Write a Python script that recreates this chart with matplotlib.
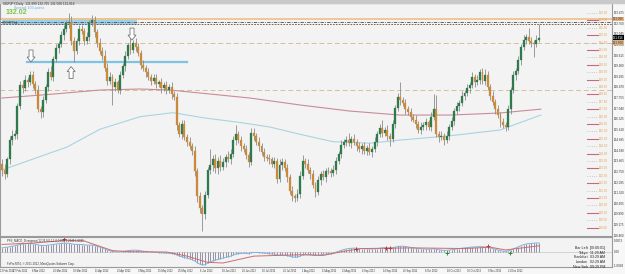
import matplotlib
matplotlib.use("Agg")
import matplotlib.pyplot as plt
import numpy as np
from matplotlib.patches import Rectangle, Polygon

# daily GBPJPY closes
closes = [
    122.9, 122.6, 123.6, 124.9, 125.2, 125.3, 127.2, 128.6, 128.4, 129.0,
    128.8, 129.3, 128.7, 128.3, 127.0, 126.8, 127.6, 128.5, 129.5, 129.2,
    130.4, 131.1, 131.4, 132.0, 132.4, 132.8, 132.9, 131.6, 130.9, 131.6,
    132.4, 132.3, 131.6, 131.9, 132.8, 133.0, 132.2, 131.5, 130.9, 130.6,
    129.8, 128.9, 129.2, 128.5, 128.8, 128.3, 129.3, 129.9, 130.6, 131.3,
    131.0, 131.5, 131.2, 130.8, 130.0, 129.8, 129.5, 129.2, 128.9, 129.1,
    128.7, 128.8, 128.4, 128.6, 128.3, 128.5, 128.0, 127.8, 125.9, 125.3,
    126.0, 125.1, 124.8, 124.5, 124.2, 122.8, 121.1, 120.3, 119.9, 121.2,
    122.9, 123.2, 123.6, 123.0, 123.5, 123.1, 123.4, 123.8, 123.6, 124.0,
    124.9, 125.3, 124.9, 124.5, 124.3, 123.9, 123.4, 125.4, 125.2, 124.8,
    124.5, 124.1, 123.8, 123.7, 123.6, 123.3, 123.5, 122.3, 123.2, 123.4,
    123.0, 122.4, 121.5, 121.1, 121.0, 121.3, 122.5, 123.5, 123.3, 122.9,
    122.6, 121.9, 121.4, 122.2, 122.6, 122.4, 122.8, 122.8, 122.7, 122.9,
    123.5, 124.0, 124.6, 124.8, 124.9, 124.7, 125.0, 124.8, 124.5, 124.3,
    124.5, 124.2, 124.4, 124.1, 124.3, 124.8, 125.3, 125.7, 125.4, 125.6,
    125.2, 125.0, 126.0, 127.1, 127.8, 127.6, 127.4, 127.0, 126.8, 126.5,
    126.3, 126.0, 125.6, 125.8, 125.9, 126.1, 125.8, 126.5, 127.0, 125.3,
    125.1, 125.2, 124.9, 125.2, 125.8, 126.2, 126.9, 127.2, 127.4, 127.9,
    128.1, 128.4, 128.6, 129.2, 128.8, 129.0, 129.5, 128.9, 129.3, 128.5,
    127.9, 127.5, 127.0, 126.6, 126.1, 125.9, 125.8, 127.0, 128.3, 129.3,
    129.6, 130.3, 131.2, 131.7, 131.9, 131.6, 131.5, 131.4, 131.7, 131.816,
]
first_open = 123.3
upper_wick = [
    0.3, 0.4, 0.2, 0.3, 0.4, 0.3, 0.2, 0.3, 0.4, 0.3, 0.2, 0.3, 0.3, 0.2, 0.3, 0.2, 0.3, 0.2, 0.3, 0.4,
    0.2, 0.3, 0.2, 0.3, 0.3, 0.2, 0.6, 0.4, 0.3, 0.2, 0.3, 0.3, 0.2, 0.3, 0.2, 0.35, 0.3, 0.2, 0.3, 0.3,
    0.4, 0.3, 0.3, 0.2, 0.3, 0.2, 0.3, 0.2, 0.3, 0.2, 0.5, 0.2, 0.3, 0.3, 0.2, 0.3, 0.2, 0.3, 0.2, 0.3,
    0.3, 0.2, 0.3, 0.2, 0.3, 0.2, 0.3, 0.2, 0.3, 0.2, 0.3, 0.3, 0.2, 0.3, 0.2, 0.3, 0.2, 0.3, 0.2, 0.3,
    0.2, 1.1, 0.3, 0.4, 0.3, 0.4, 0.3, 0.2, 0.4, 0.3, 0.3, 0.6, 0.2, 0.3, 0.2, 0.3, 0.2, 0.3, 0.3, 0.2,
    0.3, 0.2, 0.3, 0.2, 0.3, 0.2, 0.3, 0.2, 0.4, 0.3, 0.2, 0.3, 0.2, 0.3, 0.2, 0.3, 0.3, 0.4, 0.2, 0.3,
    0.2, 0.3, 0.2, 0.3, 0.2, 0.3, 0.2, 0.3, 0.2, 0.3, 0.3, 0.2, 0.3, 0.2, 0.3, 0.5, 0.2, 0.3, 0.2, 0.3,
    0.2, 0.3, 0.2, 0.3, 0.2, 0.3, 0.2, 0.3, 0.55, 0.2, 0.3, 0.2, 0.3, 0.2, 0.3, 1.0, 0.2, 0.3, 0.2, 0.3,
    0.2, 0.3, 0.2, 0.3, 0.2, 0.3, 0.2, 0.3, 1.0, 0.95, 0.2, 0.3, 0.2, 0.3, 0.2, 0.3, 0.2, 0.3, 0.2, 0.3,
    0.2, 0.3, 0.2, 0.3, 0.2, 0.3, 0.2, 0.3, 0.4, 0.3, 0.2, 0.3, 0.2, 0.3, 0.2, 0.3, 0.2, 0.3, 0.2, 0.3,
    0.2, 0.3, 0.2, 0.3, 0.2, 0.6, 0.3, 0.2, 0.3, 0.95,
]
lower_wick = [
    0.4, 0.3, 0.2, 0.3, 0.3, 0.2, 0.3, 0.2, 0.3, 0.2, 0.3, 0.2, 0.3, 0.3, 0.2, 0.4, 0.3, 0.2, 0.3, 0.2,
    0.3, 0.2, 0.3, 0.2, 0.3, 0.2, 0.3, 0.3, 0.7, 0.2, 0.3, 0.2, 0.3, 0.2, 0.3, 0.2, 0.3, 0.3, 0.2, 0.3,
    0.2, 0.3, 0.2, 1.2, 0.3, 0.2, 0.3, 0.2, 0.3, 0.2, 0.3, 0.2, 0.3, 0.2, 0.3, 0.2, 0.3, 0.2, 0.3, 0.2,
    0.3, 0.2, 0.3, 0.2, 0.3, 0.2, 0.3, 0.2, 0.3, 0.2, 0.3, 0.2, 0.3, 0.2, 0.3, 0.3, 0.4, 0.3, 1.1, 0.3,
    0.2, 0.3, 0.4, 0.3, 0.4, 0.3, 0.2, 0.3, 0.2, 0.3, 0.2, 0.3, 0.2, 0.3, 0.2, 0.3, 0.3, 0.2, 0.3, 0.2,
    0.3, 0.2, 0.3, 0.2, 0.3, 0.2, 0.3, 0.3, 0.2, 0.3, 0.2, 0.3, 0.2, 0.3, 0.3, 0.2, 0.3, 0.2, 0.3, 0.2,
    0.3, 0.2, 0.35, 0.2, 0.3, 0.2, 0.3, 0.2, 0.3, 0.2, 0.3, 0.2, 0.3, 0.2, 0.3, 0.2, 0.3, 0.2, 0.3, 0.2,
    0.3, 0.2, 0.3, 0.2, 0.3, 0.2, 0.3, 0.2, 0.3, 0.2, 0.3, 0.5, 0.2, 0.3, 0.2, 0.3, 0.2, 0.3, 0.2, 0.3,
    0.2, 0.3, 0.2, 0.3, 0.2, 0.3, 0.2, 0.3, 0.2, 0.2, 0.3, 0.2, 0.3, 0.2, 0.3, 0.2, 0.3, 0.2, 0.3, 0.2,
    0.3, 0.2, 0.3, 0.2, 0.3, 0.2, 0.3, 0.2, 0.3, 0.2, 0.3, 0.2, 0.3, 0.2, 0.3, 0.2, 0.3, 0.2, 0.3, 0.2,
    0.3, 0.2, 0.3, 0.2, 0.3, 0.2, 0.3, 0.9, 0.2, 0.19,
]

# moving averages, read at anchor bars
ma_slow_bars = [0, 18.7, 38.1, 53.7, 65.4, 77, 96.5, 116, 135.4, 154.9, 174.3, 193.8, 209.7]
ma_slow_vals = [127.75, 128.0, 128.29, 128.36, 128.29, 128.09, 127.75, 127.28, 126.87, 126.6, 126.6, 126.74, 127.0]
ma_fast_bars = [0, 25.3, 38.1, 53.7, 66.5, 79, 92.6, 104.3, 116, 128.8, 143.2, 154.9, 174.3, 193.8, 209.7]
ma_fast_vals = [122.89, 124.44, 125.64, 126.49, 126.76, 126.4, 126.1, 125.79, 125.3, 124.8, 124.7, 124.91, 125.2, 125.59, 126.6]

# horizontal levels
orange_level = 133.09
dashdot_level = 132.88
dark_dash_level = 132.72
beige_levels = [131.5, 128.32]
neckline = 130.18
neckline_bars = [9.7, 72]
zone_bars = [0, 52.5]
zone_green = [133.02, 133.19]
zone_blue = [132.68, 133.02]

# pattern arrows: (bar, price, direction)
arrows = [(11.3, 130.59, "down"), (26.9, 129.47, "up"), (50.6, 132.07, "down")]

# MACD histogram per bar
macd_hist = [
    0.30, 0.32, 0.35, 0.38, 0.42, 0.45, 0.50, 0.55, 0.58, 0.60,
    0.62, 0.62, 0.60, 0.58, 0.52, 0.48, 0.47, 0.48, 0.50, 0.52,
    0.55, 0.58, 0.60, 0.62, 0.63, 0.64, 0.64, 0.60, 0.56, 0.55,
    0.55, 0.54, 0.52, 0.50, 0.50, 0.50, 0.47, 0.42, 0.36, 0.30,
    0.22, 0.14, 0.10, 0.04, 0.02, 0.00, 0.02, 0.04, 0.07, 0.10,
    0.12, 0.13, 0.13, 0.12, 0.09, 0.06, 0.04, 0.02, 0.00, -0.01,
    -0.03, -0.04, -0.06, -0.07, -0.08, -0.09, -0.11, -0.13, -0.22, -0.30,
    -0.34, -0.40, -0.45, -0.50, -0.55, -0.65, -0.78, -0.88, -0.94, -0.92,
    -0.82, -0.73, -0.65, -0.60, -0.54, -0.49, -0.44, -0.39, -0.35, -0.30,
    -0.22, -0.15, -0.12, -0.10, -0.09, -0.10, -0.12, -0.05, -0.03, -0.03,
    -0.04, -0.06, -0.08, -0.10, -0.12, -0.14, -0.15, -0.21, -0.22, -0.22,
    -0.23, -0.26, -0.32, -0.36, -0.38, -0.37, -0.30, -0.22, -0.18, -0.17,
    -0.18, -0.22, -0.25, -0.23, -0.20, -0.18, -0.15, -0.13, -0.12, -0.10,
    0.00, 0.05, 0.12, 0.18, 0.22, 0.25, 0.27, 0.28, 0.27, 0.26,
    0.25, 0.24, 0.23, 0.22, 0.22, 0.23, 0.25, 0.28, 0.30, 0.31,
    0.30, 0.29, 0.31, 0.35, 0.40, 0.42, 0.42, 0.40, 0.37, 0.34,
    0.31, 0.28, 0.25, 0.23, 0.22, 0.21, 0.20, 0.22, 0.24, 0.20,
    0.16, 0.14, 0.12, 0.12, 0.14, 0.16, 0.19, 0.22, 0.25, 0.28,
    0.30, 0.32, 0.34, 0.36, 0.37, 0.38, 0.39, 0.38, 0.37, 0.34,
    0.30, 0.25, 0.20, 0.14, 0.10, 0.06, 0.04, 0.08, 0.15, 0.23,
    0.30, 0.38, 0.46, 0.53, 0.58, 0.61, 0.63, 0.64, 0.65, 0.66,
]
signal_bars = [0, 12, 25, 32, 43, 50, 64, 72, 80, 86, 98, 116, 125, 133, 140, 160, 180, 190, 196, 209]
signal_vals = [0.55, 0.65, 0.85, 0.8, 0.1, 0.02, 0.0, -0.3, -0.75, -0.8, -0.3, -0.2, -0.25, 0.05, 0.25, 0.3, 0.25, 0.35, 0.15, 0.45]
div_red_bars = [24, 137.7, 149.4, 151, 189]
div_red_vals = [0.95, 0.25, 0.3, 0.3, 0.45]
div_green_bars = [173, 197.7]
div_green_vals = [-0.1, -0.1]

date_labels = ["13 Feb 2012", "27 Feb 2012", "8 Mar 2012", "20 Mar 2012", "30 Mar 2012",
               "11 Apr 2012", "23 Apr 2012", "3 May 2012", "15 May 2012", "25 May 2012",
               "6 Jun 2012", "18 Jun 2012", "28 Jun 2012", "10 Jul 2012", "20 Jul 2012",
               "1 Aug 2012", "13 Aug 2012", "23 Aug 2012", "4 Sep 2012", "14 Sep 2012",
               "26 Sep 2012", "8 Oct 2012", "18 Oct 2012", "30 Oct 2012", "9 Nov 2012",
               "21 Nov 2012"]
date_bars = [-0.7, 4.3, 11.7, 19.8, 27.6, 36.2, 44.7, 52.9, 60.7, 68.5, 77, 85.6, 93.4,
             101.2, 109.3, 116.7, 124.5, 132.3, 140.1, 148.2, 156, 164.6, 173.2, 180.9,
             189.1, 196.9]

price_ticks = [133.475, 132.76, 132.045, 131.33, 130.615, 129.9, 129.185, 128.47,
               127.755, 127.04, 126.325, 125.61, 124.895, 124.18, 123.465, 122.75,
               122.035, 121.32, 120.605, 119.89, 119.175, 118.46]
pivot_levels = list(np.arange(119.0, 133.6, 0.5))

W, H = 625, 274
BULL, BEAR, WICK = "#2f7a4c", "#c98a3c", "#8c8c8c"
BG = "#f3f3f3"
plt.rcParams["font.family"] = ["Liberation Sans", "DejaVu Sans"]

fig = plt.figure(figsize=(W / 100, H / 100), dpi=100)
fig.patch.set_facecolor("#f7f7f7")
ax = fig.add_axes([0, 1 - 236 / H, 612 / W, 233 / H])
mx = fig.add_axes([0, 1 - 267 / H, 612 / W, 30 / H])
for a in (ax, mx):
    a.set_facecolor(BG)
    a.set_xlim(-0.78, 237.4)
    a.set_xticks([])
    a.set_yticks([])
    for s in a.spines.values():
        s.set_color("#9a9a9a")
        s.set_linewidth(0.8)
ax.set_ylim(118.43, 134.17)
mx.set_ylim(-1.09, 1.09)

# top strip
fig.patches.append(Rectangle((0, 1 - 3 / H), 1, 3 / H, transform=fig.transFigure,
                             color="#c9c9c9", zorder=0))

n = len(closes)
idx = np.arange(n)
opens = [first_open] + closes[:-1]

# levels and zones (behind candles)
ax.add_patch(Rectangle((zone_bars[0], zone_green[0]), zone_bars[1] - zone_bars[0],
                       zone_green[1] - zone_green[0], color="#b4dcae", lw=0, zorder=1))
ax.add_patch(Rectangle((zone_bars[0], zone_blue[0]), zone_bars[1] - zone_bars[0],
                       zone_blue[1] - zone_blue[0], color="#9dd0ea", lw=0, zorder=1))
ax.axhline(orange_level, color="#f2c293", lw=1.3, zorder=2)
ax.axhline(dashdot_level, color="#4a4a4a", lw=0.6, ls=(0, (4, 1.5, 1, 1.5)), zorder=2)
ax.axhline(dark_dash_level, color="#6b4a2a", lw=0.6, ls=(0, (2, 1.5)), zorder=2)
for lv in beige_levels:
    ax.axhline(lv, color="#d6bf9c", lw=0.7, ls=(0, (5, 3)), zorder=2)
ax.plot(neckline_bars, [neckline, neckline], color="#7dc3e6", lw=1.6, zorder=2)

ax.plot(ma_slow_bars, ma_slow_vals, color="#c98b97", lw=0.8, zorder=2)
ax.plot(ma_fast_bars, ma_fast_vals, color="#a8d4e2", lw=0.8, zorder=2)

# candles
for i in idx:
    o, c = opens[i], closes[i]
    top, bot = max(o, c), min(o, c)
    ax.vlines(i, bot - lower_wick[i], top + upper_wick[i], color=WICK, lw=0.6, zorder=3)
    col = BULL if c >= o else BEAR
    ax.add_patch(Rectangle((i - 0.38, bot), 0.76, max(top - bot, 0.03), facecolor=col,
                           edgecolor=col, lw=0.2, zorder=4))

# pattern arrows
px_x, px_y = 1 / 2.57, 1 / 14.8
for b, p, d in arrows:
    s = -1 if d == "down" else 1
    hw, sw, hh, L = 4 * px_x, 2 * px_x, 5 * px_y, 12 * px_y
    tip = p + s * L / 2
    base = p - s * L / 2
    neck = tip - s * hh
    pts = [(b, tip), (b - hw, neck), (b - sw, neck), (b - sw, base), (b + sw, base),
           (b + sw, neck), (b + hw, neck)]
    ax.add_patch(Polygon(pts, closed=True, facecolor="white", edgecolor="#777777",
                         lw=0.6, zorder=6))

# pivot labels on the right
for k, lv in enumerate(pivot_levels):
    if k % 2 == 0:
        ax.plot([227.5, 232], [lv, lv], color="#c7697e", lw=0.8, zorder=2)
    else:
        ax.plot([227.5, 232], [lv, lv], color="#bbbbbb", lw=0.6, ls=":", zorder=2)
    ax.text(232.3, lv, f"{lv:.2f}", fontsize=2.2, color="#e2a24f", va="center", ha="left",
            zorder=5)

# texts top left
fig.text(3 / W, 1 - 4 / H, "GBPJPY,Daily  131.899 132.765 131.508 131.816", fontsize=2.3,
         color="#333333", va="center")
fig.text(14 / W, 1 - 8.5 / H, "Spread: 103 points", fontsize=2.6, color="#6ab0e0", va="center")
fig.text(6 / W, 1 - 13 / H, "132.02", fontsize=5, color="#7cc443", va="center",
         fontweight="bold")
fig.text(3 / W, 1 - 23 / H, "TPP-TPP.L4", fontsize=2.0, color="#333333", va="center")

# right price axis (only the first digits show, as in the reference)
for t in price_ticks:
    yy = 1 - (3 + (134.17 - t) * 14.8) / H
    fig.text(614 / W, yy, f"{t:.3f}", fontsize=2.2, color="#333333", va="center",
             clip_on=True)
for lv, col, tc in [(orange_level, "#e9b57c", "#333333"), (131.5, "#d9b27f", "#333333"),
                    (131.816, "black", "white")]:
    yy = 1 - (3 + (134.17 - lv) * 14.8) / H
    fig.text(613 / W, yy, f"{lv:.3f}", fontsize=2.2, color=tc, va="center",
             bbox=dict(facecolor=col, edgecolor="none", pad=0.3))

# MACD panel
mx.axhline(0, color="#bdbdbd", lw=0.4)
mx.vlines(idx, 0, macd_hist, color="#6f6a88", lw=0.5)
mx.plot(idx, macd_hist, color="#7fb2dc", lw=0.7)
mx.plot(signal_bars, signal_vals, color="#cf6c6c", lw=0.7)
mx.plot(div_red_bars, div_red_vals, "+", color="#c23a3a", ms=3, mew=0.7)
mx.plot(div_green_bars, div_green_vals, "+", color="#2e8b3e", ms=3, mew=0.7)
mx.text(2, 0.78, "PFE_MACD_Divergence(12,26,9,0,1,1,0,0,0,0) 1.2249 1.0089", fontsize=2.0,
        color="#333333", va="center")
mx.text(2, -0.85, "FxPro MT4, \u00a9 2001-2012, MetaQuotes Software Corp.", fontsize=2.0,
        color="#333333", va="center")
fig.text(614 / W, 1 - 241 / H, "1.0873", fontsize=2.2, color="#333333", va="center")
fig.text(614 / W, 1 - 252 / H, "0.00", fontsize=2.2, color="#333333", va="center")
fig.text(614 / W, 1 - 266 / H, "-1.0949", fontsize=2.2, color="#333333", va="center")

# session clock
clock_names = ["Bar Left", "Tokyo", "Frankfurt", "London", "New York"]
clock_vals = ["[00:00:01]", "11:29 AM", "03:29 AM", "02:29 AM", "09:29 PM"]
for k, (a, b) in enumerate(zip(clock_names, clock_vals)):
    yy = 1 - (248 + k * 4.7) / H
    fig.text(588 / W, yy, a, fontsize=2.6, color="#222222", ha="right", va="center")
    fig.text(590 / W, yy, b, fontsize=2.6, color="#222222", ha="left", va="center")

# date axis
for lab, b in zip(date_labels, date_bars):
    xx = (2 + b * 2.57) / W
    fig.text(xx, 1 - 271 / H, lab, fontsize=1.8, color="#333333", va="center")

fig.savefig("out.png", dpi=100, facecolor=fig.get_facecolor())
